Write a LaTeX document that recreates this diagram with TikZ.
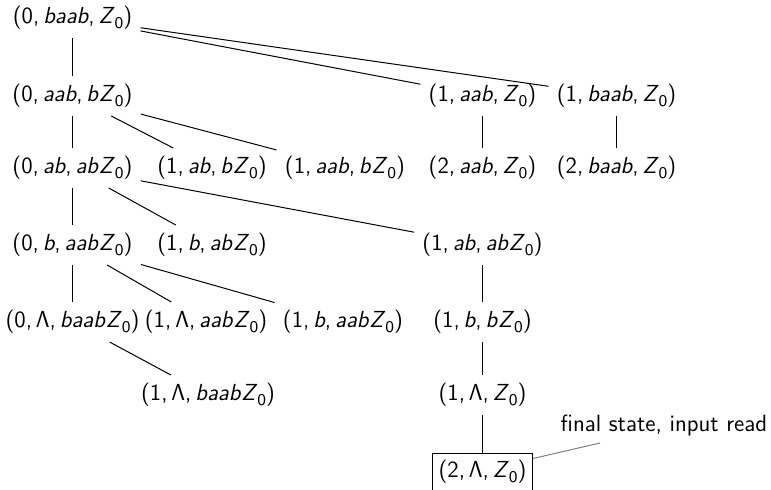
\documentclass[tikz,border=0pt]{standalone}
\newcommand{\Zz}{\textit{Z}\raisebox{-0.45ex}{\fontsize{8.2pt}{9pt}\selectfont 0}}
\newcommand{\cf}[3]{(#1,\,#2,\,#3)}
\begin{document}
\begin{tikzpicture}[x=0.5pt,y=-0.5pt,
  cfg/.style={font=\fontsize{11.6pt}{14pt}\selectfont\sffamily, inner sep=4pt},
  finalbox/.style={font=\fontsize{11.6pt}{14pt}\selectfont\sffamily, draw, line width=0.5pt, inner xsep=3pt, inner ysep=3.5pt, text depth=20pt},
  note/.style={font=\fontsize{11.75pt}{14pt}\selectfont\sffamily, inner sep=4pt},
  tl/.style={line width=0.5pt},
  notel/.style={draw=gray, line width=0.5pt}]
\useasboundingbox (0,0) rectangle (771,489);
\begin{scope}
\clip (0,0) rectangle (771,489);
\node[cfg] (A) at (72.5,18) {\cf{0}{\textit{baab}}{\Zz}};
\node[cfg] (B) at (72.5,96) {\cf{0}{\textit{aab}}{\textit{b}\Zz}};
\node[cfg] (C) at (482.5,96) {\cf{1}{\textit{aab}}{\Zz}};
\node[cfg] (D) at (616.5,96) {\cf{1}{\textit{baab}}{\Zz}};
\node[cfg] (E) at (72.5,168) {\cf{0}{\textit{ab}}{\textit{ab}\Zz}};
\node[cfg] (F) at (212,168) {\cf{1}{\textit{ab}}{\textit{b}\Zz}};
\node[cfg] (G) at (345,168) {\cf{1}{\textit{aab}}{\textit{b}\Zz}};
\node[cfg] (H) at (482.5,168) {\cf{2}{\textit{aab}}{\Zz}};
\node[cfg] (I) at (616.5,168) {\cf{2}{\textit{baab}}{\Zz}};
\node[cfg] (J) at (72.5,245) {\cf{0}{\textit{b}}{\textit{aab}\Zz}};
\node[cfg] (K) at (212,245) {\cf{1}{\textit{b}}{\textit{ab}\Zz}};
\node[cfg] (L) at (482.5,245) {\cf{1}{\textit{ab}}{\textit{ab}\Zz}};
\node[cfg] (M) at (72.5,322) {\cf{0}{Λ}{\textit{baab}\Zz}};
\node[cfg] (N) at (206,322) {\cf{1}{Λ}{\textit{aab}\Zz}};
\node[cfg] (O) at (343,322) {\cf{1}{\textit{b}}{\textit{aab}\Zz}};
\node[cfg] (P) at (482.5,322) {\cf{1}{\textit{b}}{\textit{b}\Zz}};
\node[cfg] (Q) at (208,395) {\cf{1}{Λ}{\textit{baab}\Zz}};
\node[cfg] (R) at (482.5,395) {\cf{1}{Λ}{\Zz}};
\node[finalbox, anchor=north] (S) at (482.5,452.5) {\cf{2}{Λ}{\Zz}};
\node[note] (lab) at (664,425) {final state, input read};
\coordinate (labtip) at (600,443);
\end{scope}
\draw[tl] (A) -- (B);
\draw[tl] (A) -- (C);
\draw[tl] (A) -- (D);
\draw[tl] (B) -- (E);
\draw[tl] (B) -- (F);
\draw[tl] (B) -- (G);
\draw[tl] (C) -- (H);
\draw[tl] (D) -- (I);
\draw[tl] (E) -- (J);
\draw[tl] (E) -- (K);
\draw[tl] (E) -- (L);
\draw[tl] (J) -- (M);
\draw[tl] (J) -- (N);
\draw[tl] (J) -- (O);
\draw[tl] (L) -- (P);
\draw[tl] (M) -- (Q);
\draw[tl] (P) -- (R);
\draw[tl] (R) -- (S);
\draw[notel] ([yshift=-3pt]S.north east) -- (labtip);
\end{tikzpicture}
\end{document}
